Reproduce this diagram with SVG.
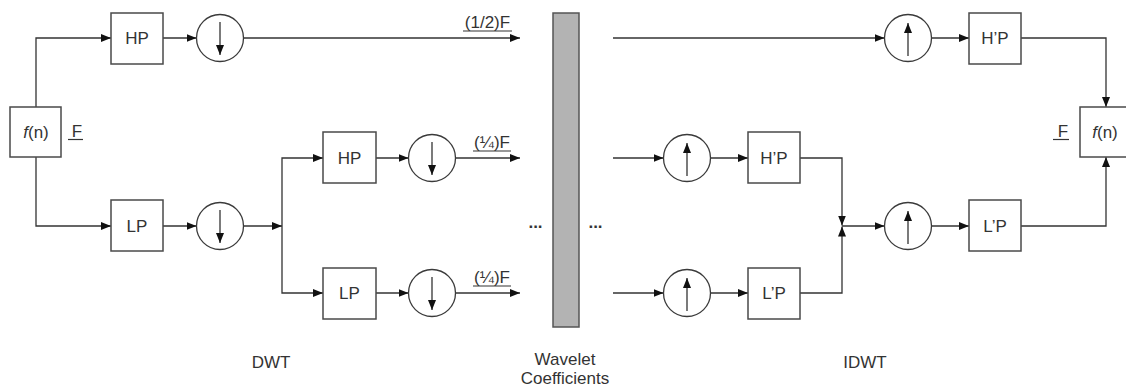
<svg xmlns="http://www.w3.org/2000/svg" width="1126" height="390" viewBox="0 0 1126 390">
<style>
.box{fill:#fff;stroke:#4a4a4a;stroke-width:1.5}
.circ{fill:#fff;stroke:#3a3a3a;stroke-width:1.3}
.ln{fill:none;stroke:#333;stroke-width:1.3}
.t{font-family:"Liberation Sans",Arial,sans-serif;font-size:17px;fill:#333;text-anchor:middle}
.ul{stroke:#333;stroke-width:1.2}
</style>
<defs>
<marker id="ah" markerUnits="userSpaceOnUse" markerWidth="10" markerHeight="9" refX="10" refY="4" orient="auto">
<path d="M0,0 L10,4 L0,8 z" fill="#111"/>
</marker>
</defs>
<rect width="1126" height="390" fill="#fff"/>
<g id="connectors">
<path class="ln" d="M36,107 V38 H111" marker-end="url(#ah)"/>
<path class="ln" d="M163,38 H196.5" marker-end="url(#ah)"/>
<path class="ln" d="M243.5,38 H520" marker-end="url(#ah)"/>
<path class="ln" d="M36,157 V226 H111" marker-end="url(#ah)"/>
<path class="ln" d="M163,226 H196.5" marker-end="url(#ah)"/>
<path class="ln" d="M243.5,226 H282" marker-end="url(#ah)"/>
<path class="ln" d="M282,226 V158 H323" marker-end="url(#ah)"/>
<path class="ln" d="M282,226 V293 H323" marker-end="url(#ah)"/>
<path class="ln" d="M376,158 H408.5" marker-end="url(#ah)"/>
<path class="ln" d="M376,293 H408.5" marker-end="url(#ah)"/>
<path class="ln" d="M455.5,158 H520" marker-end="url(#ah)"/>
<path class="ln" d="M455.5,293 H520" marker-end="url(#ah)"/>
<path class="ln" d="M613,38 H884.5" marker-end="url(#ah)"/>
<path class="ln" d="M931.5,38 H969" marker-end="url(#ah)"/>
<path class="ln" d="M1021,38 H1106 V107" marker-end="url(#ah)"/>
<path class="ln" d="M613,158 H663.5" marker-end="url(#ah)"/>
<path class="ln" d="M613,293 H663.5" marker-end="url(#ah)"/>
<path class="ln" d="M710.5,158 H748" marker-end="url(#ah)"/>
<path class="ln" d="M710.5,293 H748" marker-end="url(#ah)"/>
<path class="ln" d="M800,158 H842 V225.5" marker-end="url(#ah)"/>
<path class="ln" d="M800,293 H842 V226.5" marker-end="url(#ah)"/>
<path class="ln" d="M842,226 H884.5" marker-end="url(#ah)"/>
<path class="ln" d="M931.5,226 H969" marker-end="url(#ah)"/>
<path class="ln" d="M1021,226 H1106 V157" marker-end="url(#ah)"/>
</g>
<g id="fn-in"><rect class="box" x="10" y="107" width="51" height="50"/><text class="t" x="36" y="138"><tspan font-style="italic">f</tspan>(n)</text></g>
<g id="F-in"><text class="t" x="77" y="137">F</text><line class="ul" x1="68" y1="139.5" x2="83" y2="139.5"/></g>
<g id="hp1"><rect class="box" x="111" y="13" width="52" height="51"/><text class="t" x="137" y="44">HP</text></g>
<g id="down1"><circle class="circ" cx="220" cy="38" r="23.5"/><line class="ln" x1="220" y1="22" x2="220" y2="55" marker-end="url(#ah)"/></g>
<g id="lp1"><rect class="box" x="111" y="200" width="52" height="51"/><text class="t" x="137" y="232">LP</text></g>
<g id="down2"><circle class="circ" cx="220" cy="226" r="23.5"/><line class="ln" x1="220" y1="210" x2="220" y2="243" marker-end="url(#ah)"/></g>
<g id="hp2"><rect class="box" x="323" y="132" width="53" height="51"/><text class="t" x="349.5" y="164">HP</text></g>
<g id="down3"><circle class="circ" cx="432" cy="158" r="23.5"/><line class="ln" x1="432" y1="142" x2="432" y2="175" marker-end="url(#ah)"/></g>
<g id="lp2"><rect class="box" x="323" y="268" width="53" height="51"/><text class="t" x="349.5" y="299">LP</text></g>
<g id="down4"><circle class="circ" cx="432" cy="293" r="23.5"/><line class="ln" x1="432" y1="277" x2="432" y2="310" marker-end="url(#ah)"/></g>
<g id="lbl-half"><text class="t" x="487.5" y="28">(1/2)F</text><line class="ul" x1="463" y1="31" x2="512" y2="31"/></g>
<g id="lbl-q1"><text class="t" x="492" y="148">(¼)F</text><line class="ul" x1="473" y1="151" x2="511" y2="151"/></g>
<g id="lbl-q2"><text class="t" x="492" y="283">(¼)F</text><line class="ul" x1="473" y1="286" x2="511" y2="286"/></g>
<g id="coeffs"><rect x="553" y="13" width="26" height="314" fill="#b3b3b3" stroke="#555" stroke-width="1.5"/><text class="t" x="565" y="365">Wavelet</text><text class="t" x="565" y="384">Coefficients</text></g>
<g id="dots-l"><text class="t" x="535.5" y="228" font-weight="bold">...</text></g>
<g id="dots-r"><text class="t" x="595.5" y="228" font-weight="bold">...</text></g>
<g id="up1"><circle class="circ" cx="908" cy="38" r="23.5"/><line class="ln" x1="908" y1="56" x2="908" y2="23" marker-end="url(#ah)"/></g>
<g id="hpr1"><rect class="box" x="969" y="13" width="52" height="51"/><text class="t" x="995" y="44">H’P</text></g>
<g id="up2"><circle class="circ" cx="687" cy="158" r="23.5"/><line class="ln" x1="687" y1="176" x2="687" y2="143" marker-end="url(#ah)"/></g>
<g id="hpr2"><rect class="box" x="748" y="132" width="52" height="51"/><text class="t" x="774" y="164">H’P</text></g>
<g id="up3"><circle class="circ" cx="687" cy="293" r="23.5"/><line class="ln" x1="687" y1="311" x2="687" y2="278" marker-end="url(#ah)"/></g>
<g id="lpr2"><rect class="box" x="748" y="268" width="52" height="51"/><text class="t" x="774" y="299">L’P</text></g>
<g id="up4"><circle class="circ" cx="908" cy="226" r="23.5"/><line class="ln" x1="908" y1="244" x2="908" y2="211" marker-end="url(#ah)"/></g>
<g id="lpr1"><rect class="box" x="969" y="200" width="52" height="51"/><text class="t" x="995" y="232">L’P</text></g>
<g id="fn-out"><rect class="box" x="1080" y="107" width="51" height="50"/><text class="t" x="1105" y="138"><tspan font-style="italic">f</tspan>(n)</text></g>
<g id="F-out"><text class="t" x="1063" y="137">F</text><line class="ul" x1="1053" y1="139.5" x2="1069" y2="139.5"/></g>
<g id="lbl-dwt"><text class="t" x="271" y="368">DWT</text></g>
<g id="lbl-idwt"><text class="t" x="865" y="368">IDWT</text></g>
</svg>
